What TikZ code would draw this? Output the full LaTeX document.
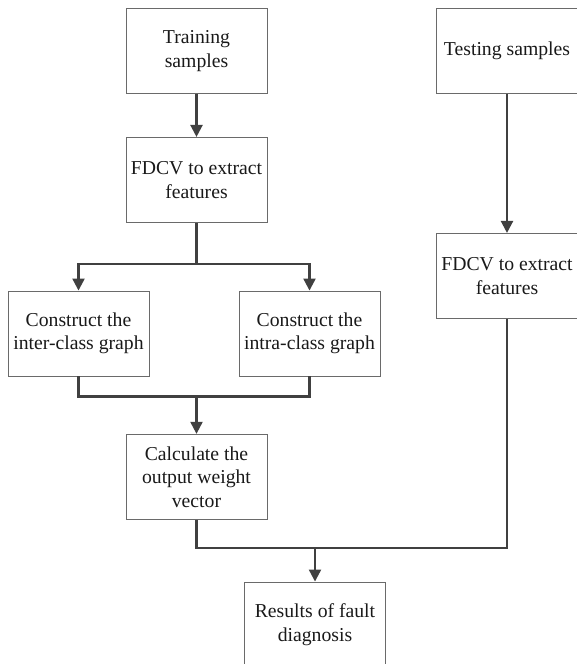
\documentclass[tikz,border=0pt]{standalone}
\usepackage{fontspec}
\setmainfont{Liberation Serif}
\usetikzlibrary{arrows.meta,positioning,calc}
\definecolor{linegray}{HTML}{404040}
\definecolor{boxgray}{HTML}{6A6A6A}

\begin{document}
\begin{tikzpicture}[x=1pt,y=1pt]
\tikzstyle{box}=[draw=boxgray, line width=0.9pt, minimum width=141pt, minimum height=85pt, align=center, text=black!90, font=\fontsize{19.7}{23.5}\selectfont]
\tikzstyle{link}=[draw=linegray, line width=2.2pt]
\tikzstyle{arr}=[link, -{Triangle[length=12pt,width=12pt]}]
\useasboundingbox (0,0) rectangle (576,-664);

\node[box] (train) at (196.5,-51) {Training\\samples};
\node[box, below=43pt of train] (feat) {FDCV to extract\\features};
\node[box] (inter) at (78.5,-333.5) {Construct the\\inter-class graph};
\node[box] (intra) at (309.5,-333.5) {Construct the\\intra-class graph};
\node[box, below=211pt of feat] (calc) {Calculate the\\output weight\\vector};
\node[box] (res) at (315,-624.5) {Results of fault\\diagnosis};
\node[box] (test) at (507,-51) {Testing samples};
\node[box, below=139pt of test] (testfeat) {FDCV to extract\\features};

\draw[arr] (train) -- (feat);
\draw[link] (feat.south) -- ++(0,-41) coordinate (split);
\draw[arr] (split) -| (inter.north);
\draw[arr] (split) -| (intra.north);

\draw[link] (inter.south) -- ++(0,-20) coordinate (join) -| (intra.south);
\draw[arr] (join -| calc.north) -- (calc);

\draw[arr] (test) -- (testfeat);
\draw[link] (calc.south) -- ++(0,-28) coordinate (low) -| (testfeat.south);
\draw[arr] (low -| res.north) -- (res);
\end{tikzpicture}
\end{document}
